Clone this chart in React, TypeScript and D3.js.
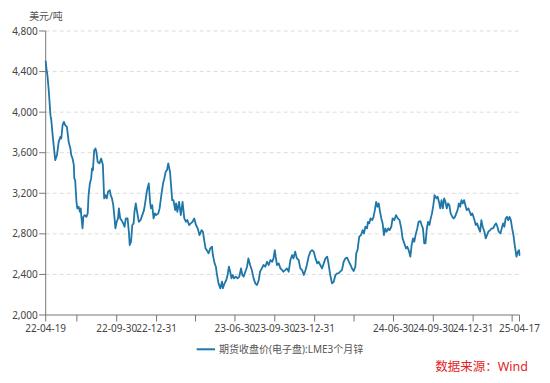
import React from "react";
import * as d3 from "d3";

const START_DATE = "2022-04-19";
const END_DATE = "2025-04-17";

// observation day offsets from START_DATE
const dayOffsets = [
  0,2,4,7,11,13,16,20,22,26,30,34,36,39,42,45,49,53,57,59,62,65,66,68,71,73,76,79,81,82,85,87,90,94,97,99,102,105,107,109,112,115,117,120,124,128,132,135,138,141,144,148,150,153,156,159,161,164,167,169,172,175,179,182,185,189,192,194,197,200,203,205,208,211,215,219,223,227,230,234,238,241,243,246,249,252,255,260,263,267,271,274,277,280,283,287,290,292,
  295,299,301,304,308,312,316,320,324,327,331,335,339,343,347,351,355,360,363,366,369,372,376,380,384,386,390,393,395,399,403,407,409,413,417,420,423,426,429,432,435,439,443,447,451,454,457,461,465,468,472,476,480,484,488,492,495,499,503,507,511,515,519,523,526,529,531,534,538,542,546,549,553,557,561,565,569,572,576,580,584,588,592,596,600,603,607,611,615,619,623,627,630,634,638,642,646,650,653,657,661,665,669,673,676,680,684,688,
  692,696,700,704,707,711,715,717,720,724,728,732,735,738,742,744,747,750,754,757,760,763,766,769,772,775,778,781,784,787,791,794,798,801,805,809,813,817,821,824,828,832,835,838,842,845,848,851,854,858,861,865,868,871,874,877,880,883,886,889,892,895,898,902,905,908,911,914,917,920,923,926,929,932,935,939,942,945,948,951,954,957,960,963,966,969,972,976,979,982,985,989,993,996,1000,1003,1006,1009,1013,1016,1019,1022,1026,1030,1033,1037,1040,1043,1046,1050,1053,1056,1059,1062,1065,1068,1071,1074,1077,1080,1083,1087,1090,1093,1094,
];

// LME 3-month zinc close, USD/t
const prices = [
  4500,4420,4364,4216,3970,3920,3773,3608,3527,3576,3707,3756,3740,3872,3904,3872,3855,3707,3642,3576,3543,3478,3347,3330,3116,3051,3067,3018,3051,2985,2854,2968,2985,2968,3002,3182,3297,3347,3445,3428,3625,3642,3608,3510,3494,3543,3478,3150,3182,3150,3215,3231,3182,3150,3083,2952,2854,2919,2952,3051,2952,2936,2903,2870,2952,2952,2821,2690,2722,2887,2903,3018,3100,3018,2919,2936,2985,3034,3116,3231,3297,3116,3051,3083,2952,3002,2985,3002,3051,3182,3297,3347,3412,3428,3494,3412,3248,3133,
  3133,3034,3100,3018,3116,2985,3116,2952,2919,2936,2887,2903,2919,2952,2887,2854,2788,2837,2821,2739,2657,2640,2608,2657,2673,2591,2509,2476,2411,2312,2263,2328,2263,2312,2345,2394,2476,2427,2361,2394,2361,2378,2361,2378,2460,2394,2378,2427,2476,2558,2493,2443,2361,2312,2296,2345,2427,2460,2493,2476,2525,2493,2542,2525,2558,2640,2575,2493,2509,2460,2443,2427,2443,2460,2427,2542,2591,2558,2624,2558,2542,2460,2443,2394,2443,2493,2575,2624,2640,2624,2558,2509,2525,2493,2460,2509,2558,2575,2509,2394,2312,2328,2394,2411,2411,2427,2443,2525,
  2558,2565,2525,2493,2460,2433,2476,2608,2640,2772,2788,2837,2804,2870,2854,2919,2903,2952,2936,2968,3034,3116,3067,3100,3018,2952,2903,2788,2854,2821,2854,2837,2870,2952,2936,2985,2952,2936,2854,2755,2706,2657,2673,2640,2575,2690,2755,2722,2788,2854,2919,2926,2887,2854,2706,2706,2854,2919,2887,2952,3002,3083,3182,3150,3166,3116,3051,3133,3051,3150,3116,3051,3100,3083,3002,2968,2952,2968,3002,3034,3100,3067,3133,3100,3133,3083,3034,3051,3018,2985,3002,2952,2887,2903,2854,2821,2936,2870,2821,2755,2788,2821,2837,2854,2854,2887,2903,2870,2821,2804,2854,2903,2870,2952,2968,2936,2968,2936,2854,2788,2690,2575,2624,2640,2591,
];

const yTicks = [2000, 2400, 2800, 3200, 3600, 4000, 4400, 4800];
const xTickDates = ["2022-04-19","2022-06-30","2022-09-30","2022-12-31","2023-03-31","2023-06-30","2023-09-30","2023-12-31","2024-03-31","2024-06-30","2024-09-30","2024-12-31","2025-03-31","2025-04-17"];
const xTickLabels = ["22-04-19","","22-09-30","22-12-31","","23-06-30","23-09-30","23-12-31","","24-06-30","24-09-30","24-12-31","","25-04-17"];
const unitLabel = "美元/吨";
const seriesName = "期货收盘价(电子盘):LME3个月锌";
const sourceNote = "数据来源：Wind";

const LINE_COLOR = "#1f77a8";
const FONT = "'Noto Sans', 'Noto Sans CJK SC', sans-serif";

export default function App() {
  const parse = d3.timeParse("%Y-%m-%d");
  const start = parse(START_DATE) as Date;
  const end = parse(END_DATE) as Date;
  const data = dayOffsets.map((d, i) => ({ date: d3.timeDay.offset(start, d), value: prices[i] }));

  const left = 45.7, right = 519.5, top = 31, bottom = 315;
  const x = d3.scaleTime().domain([start, end]).range([left, right]);
  const y = d3.scaleLinear().domain([2000, 4800]).range([bottom, top]);
  const line = d3.line<{ date: Date; value: number }>().x(d => x(d.date)).y(d => y(d.value));
  const fmt = d3.format(",");

  return (
    <svg width={550} height={383} style={{ position: "absolute", left: 0, top: 0, background: "#fff" }} fontFamily={FONT}>
      <rect width={550} height={383} fill="#fff" />
      {yTicks.filter(t => t !== 2000).map(t => (
        <line key={"g" + t} x1={left} x2={right} y1={y(t)} y2={y(t)} stroke="#dcdcdc" strokeDasharray="4,3" strokeWidth={1} />
      ))}
      {/* y axis */}
      <line x1={left} x2={left} y1={top} y2={bottom} stroke="#777" strokeWidth={1} />
      {yTicks.map(t => (
        <g key={"y" + t}>
          <line x1={left - 6.5} x2={left} y1={y(t)} y2={y(t)} stroke="#777" strokeWidth={1} />
          <text x={left - 8} y={y(t)} dy="0.35em" textAnchor="end" fontSize={10} fill="#444">{fmt(t)}</text>
        </g>
      ))}
      <text x={46} y={19.5} textAnchor="middle" fontSize={10} fill="#555">{unitLabel}</text>
      {/* x axis */}
      <line x1={left} x2={right} y1={bottom} y2={bottom} stroke="#777" strokeWidth={1} />
      {xTickDates.map((s, i) => {
        const px = x(parse(s) as Date);
        return (
          <g key={"x" + s}>
            <line x1={px} x2={px} y1={bottom} y2={bottom + 6.5} stroke="#777" strokeWidth={1} />
            {xTickLabels[i] && (
              <text x={px} y={332} textAnchor="middle" fontSize={10} fill="#444">{xTickLabels[i]}</text>
            )}
          </g>
        );
      })}
      <path d={line(data) || ""} fill="none" stroke={LINE_COLOR} strokeWidth={1.8} strokeLinejoin="round" strokeLinecap="round" />
      {/* legend */}
      <line x1={196.7} x2={215} y1={349.3} y2={349.3} stroke={LINE_COLOR} strokeWidth={2} />
      <text x={219} y={349.3} dy="0.35em" fontSize={10} fill="#555">{seriesName}</text>
      <text x={528} y={366.7} dy="0.36em" textAnchor="end" fontSize={12.5} fill="#e3231e">{sourceNote}</text>
    </svg>
  );
}
